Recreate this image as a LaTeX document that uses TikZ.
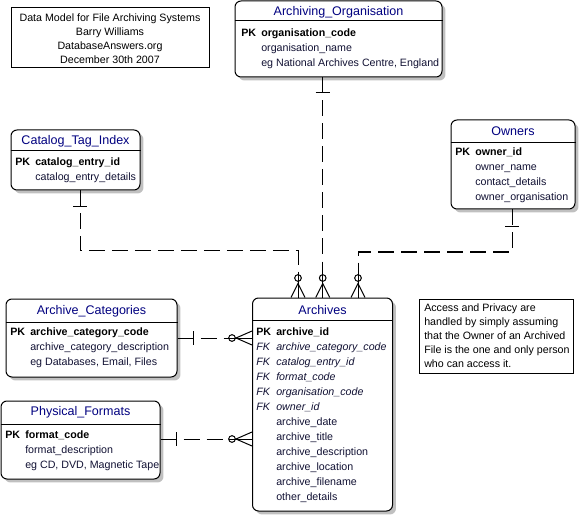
\documentclass[tikz,border=0pt]{standalone}
\usepackage{fontspec}
\setmainfont{Liberation Sans}
\usetikzlibrary{fit,shadows,calc}
\definecolor{ttlc}{RGB}{0,0,128}
\definecolor{fldc}{RGB}{18,18,52}
\definecolor{shc}{RGB}{192,192,192}
\begin{document}
\begin{tikzpicture}[x=0.75pt,y=-0.75pt,
 entity/.style={draw, rounded corners=4.5pt, inner sep=0pt, line width=0.75pt, fill=white,
   drop shadow={shadow xshift=2.6pt, shadow yshift=-2.6pt, fill=shc, opacity=1}},
 notebox/.style={draw, inner sep=0pt, line width=0.75pt},
 ttl/.style={font=\fontsize{9.4}{11}\selectfont, text=ttlc, inner sep=0pt},
 pkf/.style={font=\fontsize{8}{9.6}\selectfont\bfseries, anchor=base west, inner sep=0pt},
 fld/.style={font=\fontsize{8}{9.6}\selectfont, text=fldc, anchor=base west, inner sep=0pt},
 fkf/.style={font=\fontsize{8}{9.6}\selectfont\itshape, text=fldc, anchor=base west, inner sep=0pt},
 ntxt/.style={font=\fontsize{8}{9.6}\selectfont, anchor=base, inner sep=0pt},
 ntxtl/.style={font=\fontsize{8}{9.6}\selectfont, anchor=base west, inner sep=0pt},
 rel/.style={dash pattern=on 12pt off 5.25pt, line width=0.75pt},
 tick/.style={line width=0.75pt},
 crowdown/.pic={
   \draw[tick] (0,-19.5) circle[radius=2.5pt];
   \draw[tick] (0,-23) -- (0,0);
   \draw[tick] (-7,0) -- (0,-14) -- (7,0);
 },
 crowright/.pic={
   \draw[tick] (-20,0) circle[radius=2.5pt];
   \draw[tick] (-23,0) -- (0,0);
   \draw[tick] (0,-7) -- (-16,0) -- (0,7);
 },
]
\useasboundingbox (0,0) rectangle (584,516);

% ---------- note 1 ----------
\node[notebox, fit={(11,8)(209,68)}] (note1) {};
\node[ntxt] (n1a) at (110,21.5) {Data Model for File Archiving Systems};
\node[ntxt] (n1b) at (110,35.5) {Barry Williams};
\node[ntxt] (n1c) at (110,49.5) {DatabaseAnswers.org};
\node[ntxt] (n1d) at (110,63.5) {December 30th 2007};

% ---------- Archiving_Organisation ----------
\node[entity, fit={(235,1)(442,77)}] (org) {};
\node[ttl] (orgT) at (338.5,12.5) {Archiving\_Organisation};
\draw[tick] (org.west |- 0,21) -- (org.east |- 0,21);
\node[pkf] (orgPK) at (241,37) {PK};
\node[pkf] (orgF1) at (261,37) {organisation\_code};
\node[fld] (orgF2) at (261,52) {organisation\_name};
\node[fld] (orgF3) at (261,67) {eg National Archives Centre, England};

% ---------- Catalog_Tag_Index ----------
\node[entity, fit={(11,130)(140,190)}] (cti) {};
\node[ttl] (ctiT) at (75.5,141.5) {Catalog\_Tag\_Index};
\draw[tick] (cti.west |- 0,151) -- (cti.east |- 0,151);
\node[pkf] (ctiPK) at (15,166) {PK};
\node[pkf] (ctiF1) at (35,166) {catalog\_entry\_id};
\node[fld] (ctiF2) at (35,181) {catalog\_entry\_details};

% ---------- Owners ----------
\node[entity, fit={(451,120)(575,209)}] (own) {};
\node[ttl] (ownT) at (513,131.5) {Owners};
\draw[tick] (own.west |- 0,143) -- (own.east |- 0,143);
\node[pkf] (ownPK) at (455,156) {PK};
\node[pkf] (ownF1) at (475,156) {owner\_id};
\node[fld] (ownF2) at (475,171) {owner\_name};
\node[fld] (ownF3) at (475,186) {contact\_details};
\node[fld] (ownF4) at (475,201) {owner\_organisation};

% ---------- Archive_Categories ----------
\node[entity, fit={(6,299)(177,377)}] (acat) {};
\node[ttl] (acatT) at (91.5,311) {Archive\_Categories};
\draw[tick] (acat.west |- 0,322) -- (acat.east |- 0,322);
\node[pkf] (acatPK) at (10,335.5) {PK};
\node[pkf] (acatF1) at (30,335.5) {archive\_category\_code};
\node[fld] (acatF2) at (30,350.5) {archive\_category\_description};
\node[fld] (acatF3) at (30,365.5) {eg Databases, Email, Files};

% ---------- Physical_Formats ----------
\node[entity, fit={(1,401)(160,479)}] (pfmt) {};
\node[ttl] (pfmtT) at (80.5,412) {Physical\_Formats};
\draw[tick] (pfmt.west |- 0,424) -- (pfmt.east |- 0,424);
\node[pkf] (pfmtPK) at (5,438.5) {PK};
\node[pkf] (pfmtF1) at (25,438.5) {format\_code};
\node[fld] (pfmtF2) at (25,453.5) {format\_description};
\node[fld] (pfmtF3) at (25,468.5) {eg CD, DVD, Magnetic Tape};

% ---------- Archives ----------
\node[entity, fit={(252.5,298)(392.5,511)}] (arch) {};
\node[ttl] (archT) at (322.5,310) {Archives};
\draw[tick] (arch.west |- 0,320.5) -- (arch.east |- 0,320.5);
\node[pkf] (archPK) at (256,335) {PK};
\node[pkf] (archF1) at (276,335) {archive\_id};
\node[fkf] (archK2) at (256,350) {FK};
\node[fkf] (archF2) at (276,350) {archive\_category\_code};
\node[fkf] (archK3) at (256,365) {FK};
\node[fkf] (archF3) at (276,365) {catalog\_entry\_id};
\node[fkf] (archK4) at (256,380) {FK};
\node[fkf] (archF4) at (276,380) {format\_code};
\node[fkf] (archK5) at (256,395) {FK};
\node[fkf] (archF5) at (276,395) {organisation\_code};
\node[fkf] (archK6) at (256,410) {FK};
\node[fkf] (archF6) at (276,410) {owner\_id};
\node[fld] (archF7) at (276,425) {archive\_date};
\node[fld] (archF8) at (276,440) {archive\_title};
\node[fld] (archF9) at (276,455) {archive\_description};
\node[fld] (archF10) at (276,470) {archive\_location};
\node[fld] (archF11) at (276,485) {archive\_filename};
\node[fld] (archF12) at (276,500) {other\_details};

% ---------- note 2 ----------
\node[notebox, fit={(419,299)(573,373)}] (note2) {};
\node[ntxtl] (n2a) at (424,311.5) {Access and Privacy are};
\node[ntxtl] (n2b) at (424,325.5) {handled by simply assuming};
\node[ntxtl] (n2c) at (424,339.5) {that the Owner of an Archived};
\node[ntxtl] (n2d) at (424,353.5) {File is the one and only person};
\node[ntxtl] (n2e) at (424,367.5) {who can access it.};

% ---------- relationships ----------
% Catalog_Tag_Index -> Archives
\coordinate (cA) at (298,275);
\draw[rel] (80,0 |- cti.south) -- (80,250.7) -- (298,250.7) -- (cA);
\draw[tick] (73,207) -- (87,207);
\pic at (298,0 |- arch.north) {crowdown};
% Archiving_Organisation -> Archives
\coordinate (cB) at (322.7,275);
\draw[rel] (322.7,0 |- org.south) -- (cB);
\draw[tick] (315.7,93) -- (329.7,93);
\pic at (322.7,0 |- arch.north) {crowdown};
% Owners -> Archives
\coordinate (cC) at (358,275);
\draw[rel] (512,0 |- own.south) -- (512,252) -- (358,252) -- (cC);
\draw[tick] (505,227) -- (519,227);
\pic at (358,0 |- arch.north) {crowdown};
% Archive_Categories -> Archives
\coordinate (cD) at (229,338);
\draw[rel] (acat.east |- 0,338) -- (cD);
\draw[tick] (193,331) -- (193,345);
\pic at (arch.west |- 0,338) {crowright};
% Physical_Formats -> Archives
\coordinate (cE) at (229,439);
\draw[rel] (pfmt.east |- 0,439) -- (cE);
\draw[tick] (176,432) -- (176,446);
\pic at (arch.west |- 0,439) {crowright};
\end{tikzpicture}
\end{document}
